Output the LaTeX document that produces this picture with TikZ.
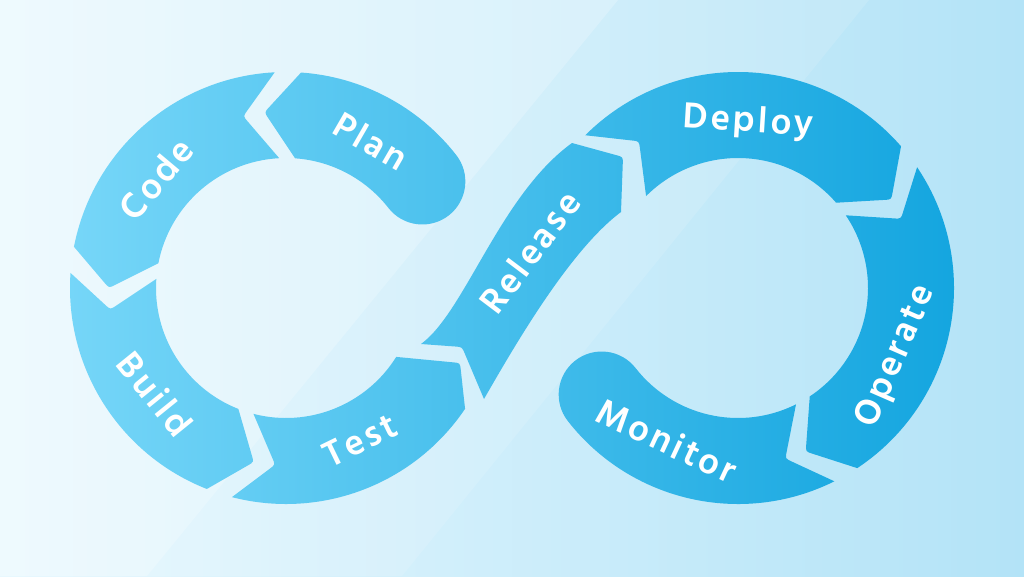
\documentclass[tikz,border=0pt]{standalone}
\usepackage{fontspec}
\newfontfamily\lblfont{Hind Madurai}[LetterSpace=8]
\usetikzlibrary{calc}

\definecolor{bgLeft}{HTML}{E8F8FE}
\definecolor{bgRight}{HTML}{B3E3F7}
\definecolor{bandLeft}{HTML}{76D6F8}
\definecolor{bandRight}{HTML}{13A5DF}

\tikzset{
  % band colour, picked along x (percent of the right colour)
  seg/.style 2 args={left color=bandRight!#1!bandLeft, right color=bandRight!#2!bandLeft},
  % rounded tip: from, apex, to
  rtip/.style n args={3}{insert path={-- ($(#2)!7pt!(#1)$) .. controls (#2) .. ($(#2)!7pt!(#3)$)}},
  % one arrow piece of a loop: tail angle, head angle, tip offset
  arm/.style n args={3}{insert path={(#1:216) arc[start angle=#1, end angle=#2, radius=216]
      [rtip={#2:216}{#2+#3:177}{#2:130}] -- (#2:130)
      arc[start angle=#2, end angle=#1, radius=130]
      [rtip={#1:130}{#1+#3:177}{#1:216}] -- cycle}},
  lbl/.style={text=white, inner sep=0pt, text height=23pt, text depth=0pt,
      font=\lblfont\bfseries\fontsize{37}{37}\selectfont},
}

\begin{document}
\begin{tikzpicture}[x=1pt, y=-1pt]
  \useasboundingbox (0,0) rectangle (1024,576);
  % background with two slanted bands
  \shade[left color=bgLeft, right color=bgRight] (0,0) rectangle (1024,576);
  \fill[white, opacity=0.3] (0,0) -- (618,0) -- (147,576) -- (0,576) -- cycle;
  \fill[white, opacity=0.12] (618,0) -- (869,0) -- (402,576) -- (147,576) -- cycle;

  % left loop
  \begin{scope}[shift={(286,288)}]
    \shade[seg={22}{45}] (-38:216) arc[start angle=-38, end angle=-86, radius=216]
      [rtip={-86:216}{-97:177}{-86:130}] -- (-86:130)
      arc[start angle=-86, end angle=-38, radius=130]
      arc[start angle=142, end angle=-38, radius=43] -- cycle;
    \shade[seg={0}{24}, arm={-93}{-169}{-11}];
    \shade[seg={0}{21}, arm={-176}{-248.5}{-11}];
    \shade[seg={18}{46}] (-255.5:216) arc[start angle=-255.5, end angle=-326, radius=216]
      [rtip={-326:216}{174,75}{-328:130}] -- (-328:130)
      arc[start angle=-328, end angle=-255.5, radius=130]
      [rtip={-255.5:130}{-266.5:177}{-255.5:216}] -- cycle;
    \foreach \name/\txt/\ang in {code/Code/-140, plan/Plan/-60}
      \node[lbl, rotate=-90-\ang] (\name) at (\ang:168) {\txt};
    \foreach \name/\txt/\ang in {build/Build/141, test/Test/64}
      \node[lbl, rotate=90-\ang] (\name) at (\ang:170) {\txt};
  \end{scope}

  % crossing piece
  \shade[seg={40}{63}] (421,344) .. controls (465,312) and (500,195) .. (572,143)
    [rtip={572,143}{623,157}{621,212}] -- (621,212)
    .. controls (570,250) and (515,345) .. (484,399)
    [rtip={484,399}{462,347}{421,344}] -- cycle;
  \node[lbl, rotate=53] (release) at (531,253) {Release};

  % right loop
  \begin{scope}[shift={(738,288)}]
    \shade[seg={59}{94}, arm={-135}{-41}{11}];
    \shade[seg={83}{100}, arm={-34}{56.5}{11}];
    \shade[seg={55}{89}] (63.5:216) arc[start angle=63.5, end angle=142, radius=216]
      arc[start angle=142, end angle=322, radius=43]
      arc[start angle=142, end angle=63.5, radius=130]
      [rtip={63.5:130}{74.5:177}{63.5:216}] -- cycle;
    \node[lbl, rotate=-3.5] (deploy) at (-86.5:168) {Deploy};
    \foreach \name/\txt/\ang in {operate/Operate/23.5, monitor/Monitor/115}
      \node[lbl, rotate=90-\ang] (\name) at (\ang:170) {\txt};
  \end{scope}
\end{tikzpicture}
\end{document}
